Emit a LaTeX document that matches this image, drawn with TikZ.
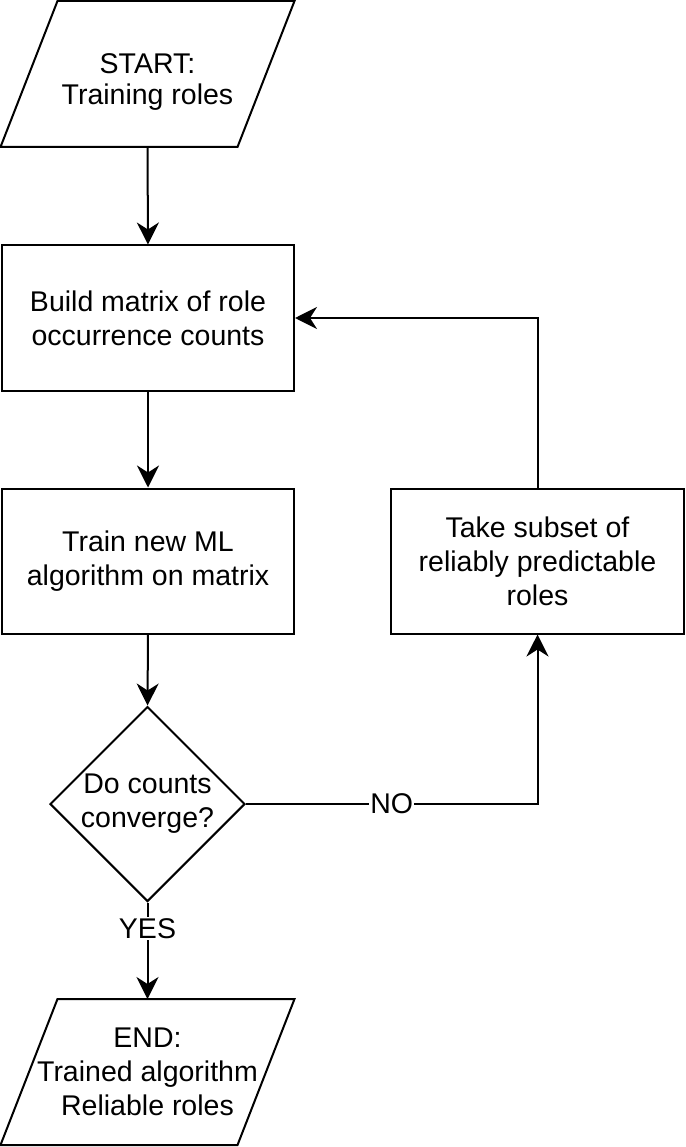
\documentclass[tikz,border=0pt]{standalone}
\usepackage{fontspec}
\setmainfont{Liberation Sans}
\usetikzlibrary{arrows.meta}
\usetikzlibrary{shapes.geometric}

\begin{document}
\begin{tikzpicture}[x=1pt,y=-1pt,line width=2pt,
  every node/.style={font=\fontsize{28.5}{34}\selectfont, align=center},
  box/.style={draw, rectangle, minimum width=292pt, minimum height=145pt, inner sep=0pt},
  iobox/.style={rectangle, minimum width=235pt, minimum height=144pt, inner sep=0pt},
  decide/.style={draw, diamond, aspect=1, minimum width=195pt, minimum height=195pt, inner sep=0pt},
  flow/.style={-{Stealth[length=22pt,width=22pt,inset=7pt]}},
  lbl/.style={fill=white, inner sep=1pt}]

\useasboundingbox (0,0) rectangle (685,1147);

\node[iobox, text height=66pt] (start) at (147.5,74) {START:\\[-3pt]Training roles};
\draw (start.south west) ++(-28.5,0) -- ([xshift=28.5pt]start.north west)
  -- ([xshift=28.5pt]start.north east) -- ([xshift=-28.5pt]start.south east) -- cycle;

\node[box] (build) at (148,318) {Build matrix of role\\occurrence counts};
\node[box] (train) at (148,561) {Train new ML\\algorithm on matrix};
\node[decide] (conv) at (147.5,804) {Do counts\\converge?};
\node[box, minimum width=293pt] (take) at (537.5,561) {Take subset of\\reliably predictable\\roles};

\node[iobox] (end) at (147.5,1072) {END:\\Trained algorithm\\Reliable roles};
\draw (end.south west) ++(-28.5,0) -- ([xshift=28.5pt]end.north west)
  -- ([xshift=28.5pt]end.north east) -- ([xshift=-28.5pt]end.south east) -- cycle;

\draw[flow] (start.south) -- (build.north);
\draw[flow] (build.south) -- (train.north);
\draw[flow] (train.south) -- (conv.north);
\draw[flow] (conv.south) -- (end.north) node[lbl, pos=0.27] {YES};
\draw[flow] (conv.east) -| (take.south) node[lbl, pos=0.25] {NO};
\draw[flow] (take.north) |- (build.east);

\end{tikzpicture}
\end{document}
